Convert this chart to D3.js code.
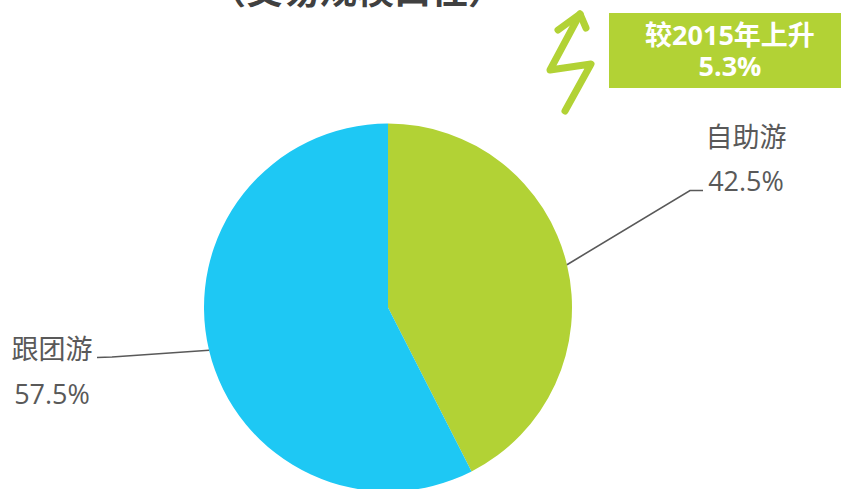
<!DOCTYPE html>
<html><head><meta charset="utf-8">
<script src="https://cdn.jsdelivr.net/npm/d3@7/dist/d3.min.js"></script>
<style>
html,body{margin:0;padding:0;background:#fff;overflow:hidden}
text{font-family:"Open Sans","Noto Sans CJK SC",sans-serif}
</style></head><body>
<script>
const categories = ["自助游", "跟团游"];
const shares = [42.5, 57.5];
const sliceColors = ["#b2d235", "#1ec8f4"];
const titleText = "（交易规模口径）";
const calloutLines = ["较2015年上升", "5.3%"];

const width = 841, height = 489;
const svg = d3.select("body").append("svg").attr("width", width).attr("height", height);

svg.append("text").attr("x", 357).attr("y", 4).attr("text-anchor", "middle")
  .attr("font-size", 37).attr("font-weight", 700).attr("fill", "#404040").text(titleText);

// Pie, clockwise from twelve o'clock
const cx = 388, cy = 307.5, radius = 184;
const pie = d3.pie().sort(null).value(d => d);
const arc = d3.arc().innerRadius(0).outerRadius(radius);
const pieG = svg.append("g").attr("transform", `translate(${cx},${cy})`);
pieG.selectAll("path").data(pie(shares)).join("path")
  .attr("d", arc).attr("fill", (d, i) => sliceColors[i]);

// Leader lines leave each slice's rim and end in a short elbow toward its label
const leaders = [
  {slice: 0, angle: 1.336, knee: [690, 190.5], end: [703, 190.5]},
  {slice: 1, angle: 4.478, knee: [112, 357], end: [97, 357.5]}
];
const line = d3.line();
leaders.forEach(l => {
  const start = [cx + radius * Math.sin(l.angle), cy - radius * Math.cos(l.angle)];
  svg.append("path").attr("d", line([start, l.knee, l.end]))
    .attr("fill", "none").attr("stroke", "#595959").attr("stroke-width", 1.6);
});

const labelStyle = s => s.attr("font-size", 27).attr("fill", "#595959").attr("text-anchor", "middle");
const labels = [
  {x: 746, y1: 147, y2: 191, i: 0},
  {x: 52, y1: 359, y2: 404, i: 1}
];
labels.forEach(l => {
  svg.append("text").call(labelStyle).attr("x", l.x).attr("y", l.y1).text(categories[l.i]);
  svg.append("text").call(labelStyle).attr("x", l.x).attr("y", l.y2).text(d3.format(".1f")(shares[l.i]) + "%");
});

// Callout: zig-zag arrow beside a filled box
const accent = sliceColors[0];
svg.append("path").attr("d", line([[565,111],[591,64],[550,70],[580,14]]))
  .attr("fill", "none").attr("stroke", accent).attr("stroke-width", 7)
  .attr("stroke-linecap", "round").attr("stroke-linejoin", "round");
svg.append("path").attr("d", line([[558,30],[580,14],[586,28]]))
  .attr("fill", "none").attr("stroke", accent).attr("stroke-width", 7)
  .attr("stroke-linecap", "round").attr("stroke-linejoin", "round");
svg.append("rect").attr("x", 609).attr("y", 13).attr("width", 232).attr("height", 75).attr("fill", accent);
calloutLines.forEach((t, i) => {
  svg.append("text").attr("x", 730).attr("y", [45, 76][i]).attr("text-anchor", "middle")
    .attr("font-size", 27).attr("font-weight", 700).attr("fill", "#fff").text(t);
});
</script></body></html>
